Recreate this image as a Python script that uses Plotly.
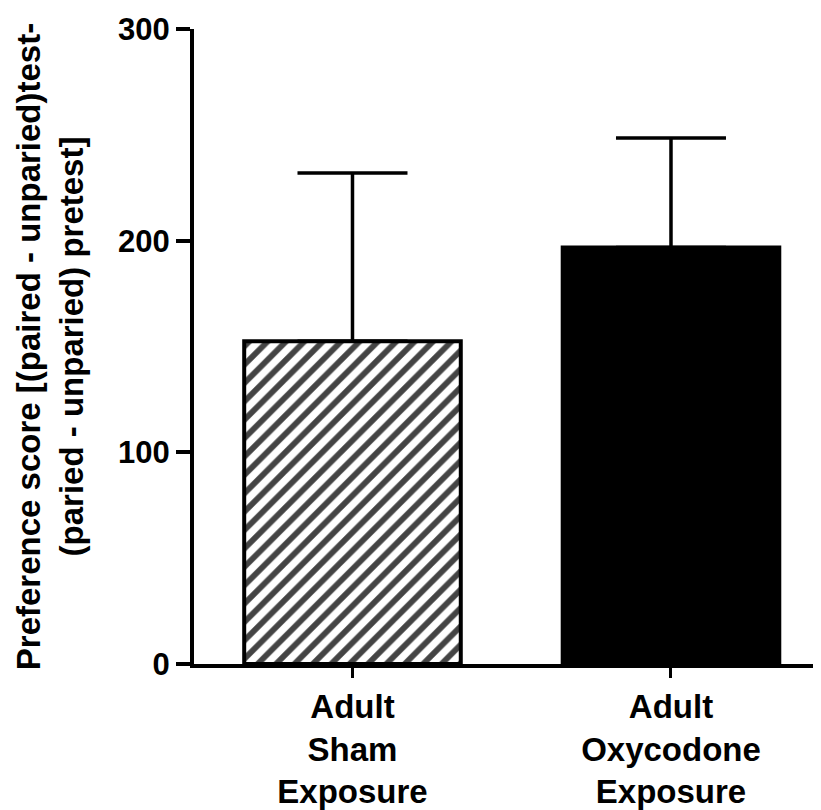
import plotly.graph_objects as go

categories = ["Adult<br>Sham<br>Exposure", "Adult<br>Oxycodone<br>Exposure"]
means = [152.5, 196.8]
sem = [79.5, 51.7]
y_ticks = [0, 100, 200, 300]

FONT = "Liberation Sans, Arial, sans-serif"

fig = go.Figure()
fig.add_trace(go.Bar(
    x=[0, 1],
    y=means,
    width=0.68,
    marker=dict(
        color=["white", "black"],
        line=dict(color="black", width=4),
        pattern=dict(shape=["/", ""], fgcolor="black", bgcolor="white",
                     fgopacity=1, size=13, solidity=0.45, fillmode="overlay"),
    ),
    error_y=dict(type="data", symmetric=False, array=sem, arrayminus=[0, 0],
                 color="black", thickness=3.5, width=55),
    showlegend=False,
))

# page body has an 8px default margin, so the figure is 8px smaller
fig.update_layout(
    width=813, height=802,
    margin=dict(l=186, r=0, t=21, b=144),
    plot_bgcolor="white", paper_bgcolor="white",
    font=dict(family=FONT, color="black", weight="bold"),
    xaxis=dict(
        range=[-0.4976, 1.471],
        tickmode="array", tickvals=[0, 1], ticktext=categories,
        tickfont=dict(size=33, family=FONT, weight="bold", color="black"),
        ticks="outside", ticklen=10, tickwidth=2.5, tickcolor="black",
        showline=True, linecolor="black", linewidth=4,
        showgrid=False, zeroline=False,
    ),
    yaxis=dict(
        range=[0, 300],
        tickmode="array", tickvals=y_ticks,
        tickfont=dict(size=31, family=FONT, weight="bold", color="black"),
        ticks="outside", ticklen=14, tickwidth=3.5, tickcolor="black",
        showline=True, linecolor="black", linewidth=4,
        showgrid=False, zeroline=False,
        title=dict(text="Preference score [(paired - unparied)test-<br>(paried - unparied) pretest]",
                   font=dict(size=33, family=FONT, weight="bold", color="black"),
                   standoff=26),
    ),
)

fig.write_html("out.html")
